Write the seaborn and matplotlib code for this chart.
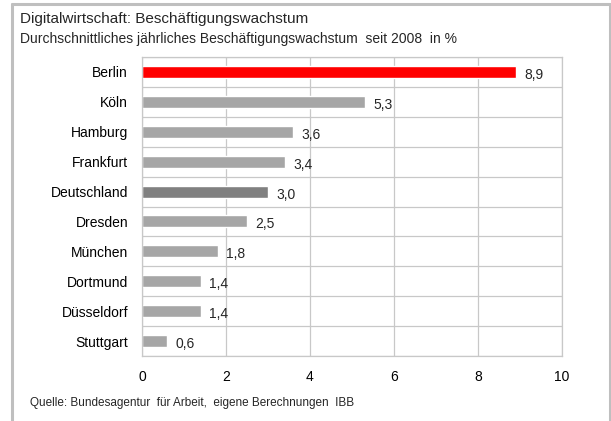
import matplotlib.pyplot as plt
import seaborn as sns
import pandas as pd

# data
cities = ['Berlin', 'Köln', 'Hamburg', 'Frankfurt', 'Deutschland', 'Dresden',
          'München', 'Dortmund', 'Düsseldorf', 'Stuttgart']
growth = [8.9, 5.3, 3.6, 3.4, 3.0, 2.5, 1.8, 1.4, 1.4, 0.6]
bar_colors = ['#ff0000', '#a6a6a6', '#a6a6a6', '#a6a6a6', '#808080', '#a6a6a6',
              '#a6a6a6', '#a6a6a6', '#a6a6a6', '#a6a6a6']

df = pd.DataFrame({'Stadt': cities, 'Wachstum': growth})

sns.set_style('white')
plt.rcParams['font.family'] = ['Liberation Sans', 'DejaVu Sans']

fig = plt.figure(figsize=(6.11, 4.21), dpi=100)
ax = fig.add_axes([0.2324, 0.1544, 0.6874, 0.7102])

sns.barplot(data=df, x='Wachstum', y='Stadt', hue='Stadt', palette=bar_colors,
            legend=False, width=0.4, saturation=1, ax=ax)

ax.set_xlim(0, 10)
ax.set_ylim(len(cities) - 0.5, -0.5)
ax.set_xticks([0, 2, 4, 6, 8, 10])
ax.set_xticklabels(['0', '2', '4', '6', '8', '10'])
# horizontal grid lines between the categories
for b in range(len(cities) + 1):
    ax.axhline(b - 0.5, color='#c8c8c8', lw=0.9, zorder=0)
ax.grid(axis='x', color='#c8c8c8', lw=0.9)
ax.set_axisbelow(True)
for s in ax.spines.values():
    s.set_color('#c8c8c8')
    s.set_linewidth(0.9)
ax.tick_params(axis='y', length=0, labelsize=10, colors='black', pad=10)
ax.tick_params(axis='x', length=0, labelsize=10, colors='black', pad=10)
ax.set_xlabel('')
ax.set_ylabel('')

for i, v in enumerate(growth):
    ax.text(v + 0.2, i + 0.1, f'{v:.1f}'.replace('.', ','), va='center',
            ha='left', fontsize=10)

fig.text(0.033, 0.955, 'Digitalwirtschaft: Beschäftigungswachstum', fontsize=11,
         va='center', ha='left')
fig.text(0.033, 0.907, 'Durchschnittliches jährliches Beschäftigungswachstum  seit 2008  in %',
         fontsize=10, va='center', ha='left')
fig.text(0.049, 0.043, 'Quelle: Bundesagentur  für Arbeit,  eigene Berechnungen  IBB',
         fontsize=8.5, va='center', ha='left')

# outer frame (top, left, right)
frame_col = '#bfbfbf'
fig.add_artist(plt.Line2D([0.0196, 0.0196], [0.0, 0.991], color=frame_col, lw=2.2))
fig.add_artist(plt.Line2D([0.0196, 0.9984], [0.991, 0.991], color=frame_col, lw=2.2))
fig.add_artist(plt.Line2D([0.9984, 0.9984], [0.0, 0.991], color=frame_col, lw=2.2))

fig.savefig('out.png', dpi=100)
